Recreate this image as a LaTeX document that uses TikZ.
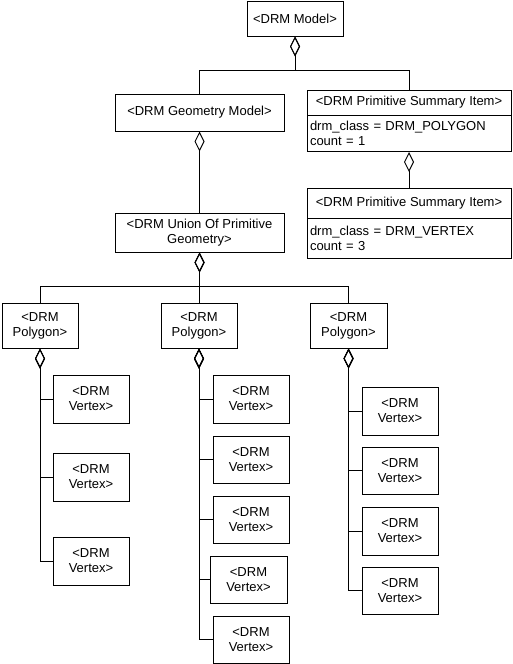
\documentclass[tikz,border=0pt]{standalone}
\usepackage{fontspec}
\setmainfont{Liberation Sans}
\usetikzlibrary{arrows.meta,calc}
\begin{document}
\begin{tikzpicture}[x=0.75pt,y=-0.75pt,
  font=\fontsize{9.75pt}{11.25pt}\selectfont,
  box/.style 2 args={draw, line width=0.75pt, inner sep=0pt, align=center,
    minimum width=#1*0.75pt, minimum height=#2*0.75pt},
  agg/.style={draw, line width=0.75pt, -{Diamond[open,length=15pt,width=7.5pt]}}]
\useasboundingbox (0,0) rectangle (512,664);
% top level
\node[box={96}{35}] (model) at (295,18.5) {<DRM Model>};
\node[box={169}{37}] (geo) at (199.5,112.5) {<DRM Geometry Model>};
\node[box={204}{25}] (ps1h) at (409,102.5) {<DRM Primitive Summary Item>};
\node[box={204}{36}, anchor=north, text width=198*0.75pt, align=left] (ps1b) at (409,115)
  {drm\_class = DRM\_POLYGON\\count = 1};
\node[box={204}{30}] (ps2h) at (409,203) {<DRM Primitive Summary Item>};
\node[box={204}{40}, anchor=north, text width=198*0.75pt, align=left] (ps2b) at (409,218)
  {drm\_class = DRM\_VERTEX\\count = 3};
\node[box={169}{39}] (union) at (199.5,232.5) {<DRM Union Of Primitive\\Geometry>};
% polygons
\node[box={76}{45}] (p1) at (40,325.5) {<DRM\\Polygon>};
\node[box={76}{45}] (p2) at (199,325.5) {<DRM\\Polygon>};
\node[box={77}{45}] (p3) at (348.5,325.5) {<DRM\\Polygon>};
% vertices column 1
\node[box={76}{48}] (v11) at (91,399) {<DRM\\Vertex>};
\node[box={76}{48}] (v12) at (91,477) {<DRM\\Vertex>};
\node[box={76}{48}] (v13) at (91,561) {<DRM\\Vertex>};
% vertices column 2
\node[box={76}{48}] (v21) at (251,399) {<DRM\\Vertex>};
\node[box={76}{47}] (v22) at (251,459.5) {<DRM\\Vertex>};
\node[box={76}{47}] (v23) at (251,519.5) {<DRM\\Vertex>};
\node[box={77}{47}] (v24) at (248.5,579.5) {<DRM\\Vertex>};
\node[box={76}{47}] (v25) at (251,639.5) {<DRM\\Vertex>};
% vertices column 3
\node[box={76}{48}] (v31) at (400,411) {<DRM\\Vertex>};
\node[box={76}{47}] (v32) at (400,470.5) {<DRM\\Vertex>};
\node[box={76}{48}] (v33) at (400,531) {<DRM\\Vertex>};
\node[box={76}{47}] (v34) at (400,590.5) {<DRM\\Vertex>};
% junctions
\coordinate (jm) at (295,70);
\coordinate (ju) at (199.5,286);
% connectors
\draw[agg] (geo.north) |- (jm) -- (model.south);
\draw[agg] (ps1h.north) |- (jm) -- (model.south);
\draw[agg] (ps2h.north) -- (ps1b.south);
\draw[agg] (union.north) -- (geo.south);
\draw[agg] (p1.north) |- (ju) -- (union.south);
\draw[agg] (p2.north) |- (ju) -- (union.south);
\draw[agg] (p3.north) |- (ju) -- (union.south);
\foreach \v in {v11,v12,v13} \draw[agg] (\v.west) -| (p1.south);
\foreach \v in {v21,v22,v23,v24,v25} \draw[agg] (\v.west) -| (p2.south);
\foreach \v in {v31,v32,v33,v34} \draw[agg] (\v.west) -| (p3.south);
\end{tikzpicture}
\end{document}
